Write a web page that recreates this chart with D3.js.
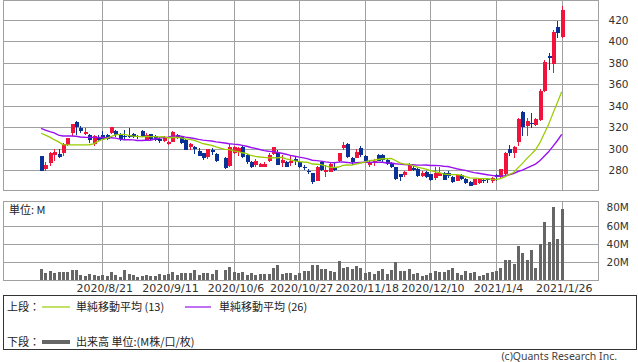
<!DOCTYPE html>
<html><head><meta charset="utf-8">
<script src="https://cdn.jsdelivr.net/npm/d3@7"></script>
<style>body{margin:0;background:#fff} svg{display:block}</style>
</head><body><svg id="c" width="638" height="362"></svg>
<script>
// ---- data ----
const dates = ("2020/7/31 2020/8/3 2020/8/4 2020/8/5 2020/8/6 2020/8/7 2020/8/11 2020/8/12 2020/8/13 2020/8/14 " +
"2020/8/17 2020/8/18 2020/8/19 2020/8/20 2020/8/21 2020/8/24 2020/8/25 2020/8/26 2020/8/27 2020/8/28 " +
"2020/8/31 2020/9/1 2020/9/2 2020/9/3 2020/9/4 2020/9/7 2020/9/8 2020/9/9 2020/9/10 2020/9/11 " +
"2020/9/14 2020/9/15 2020/9/16 2020/9/17 2020/9/18 2020/9/23 2020/9/24 2020/9/25 2020/9/28 2020/9/29 " +
"2020/9/30 2020/10/1 2020/10/2 2020/10/5 2020/10/6 2020/10/7 2020/10/8 2020/10/9 2020/10/12 2020/10/13 " +
"2020/10/14 2020/10/15 2020/10/16 2020/10/19 2020/10/20 2020/10/21 2020/10/22 2020/10/23 2020/10/26 2020/10/27 " +
"2020/10/28 2020/10/29 2020/10/30 2020/11/2 2020/11/4 2020/11/5 2020/11/6 2020/11/9 2020/11/10 2020/11/11 " +
"2020/11/12 2020/11/13 2020/11/16 2020/11/17 2020/11/18 2020/11/19 2020/11/20 2020/11/24 2020/11/25 2020/11/26 " +
"2020/11/27 2020/11/30 2020/12/1 2020/12/2 2020/12/3 2020/12/4 2020/12/7 2020/12/8 2020/12/9 2020/12/10 " +
"2020/12/11 2020/12/14 2020/12/15 2020/12/16 2020/12/17 2020/12/18 2020/12/21 2020/12/22 2020/12/23 2020/12/24 " +
"2020/12/25 2020/12/28 2020/12/29 2020/12/30 2021/1/4 2021/1/5 2021/1/6 2021/1/7 2021/1/8 2021/1/12 " +
"2021/1/13 2021/1/14 2021/1/15 2021/1/18 2021/1/19 2021/1/20 2021/1/21 2021/1/22 2021/1/25 2021/1/26").split(" ");

const open = [293,281.5,287,294.5,295.5,296.4,303.5,315,325,319,
313.5,313.2,304.5,311.3,313,312.5,315,316.6,313.8,311.9,
312.9,313.8,312,316.9,308.2,313.5,311.6,309.2,307.3,304.5,
306.7,313,310.7,308.2,302,302,298,295.8,292.1,299.2,
295.5,null,291.8,284,296,297.5,302,294.3,288,285,
283.4,283.5,289,295,297.3,287.1,288,286.5,290.2,288,
283.4,279.6,277.2,270.3,288,278.1,278.7,283.4,288.7,301.1,
304.2,291.2,291.8,300.5,293.3,285,286.5,294.3,294.3,289.6,
286.5,282.8,276.3,275.6,279.6,282.4,281,275,278.1,276.5,
272.5,275,277.8,277.2,274,270.3,275.6,271.6,269.4,266.3,
267.9,271,271.5,270.3,275.6,273.5,276.5,299.8,296.4,306.7,
334.6,321.3,324.4,322.2,326.8,354.1,386.4,379,413.9,403.9];

const high = [293.5,288,297,299.8,299.8,305,310.5,323.5,326.2,321,
319.7,314,313.2,313,316.6,313.5,320.5,317.5,315,317.5,
319.7,314.5,313,317.8,314.7,314,312.5,311,312,307.4,
316.5,314,312.2,309,305.5,302.5,300.5,296.5,300.3,300.5,
296.5,null,292.5,304.2,303,302,303,295.5,289,290.2,
287,288,296,302,298.5,294.3,288.5,293,292,288.7,
285,281,277.5,284,289,284.5,287,288,296.3,306.1,
305,292.5,299.6,302.6,294,290,290.5,295,295.5,291,
288,283.5,277,279.5,286.5,284,282,279,279.5,277,
283,283,278.5,279,275,276,277,272.5,270,272,
273,273,273,274,277,281.5,297.3,303.4,302.5,328.5,
335,328.4,333.5,328.5,355.5,382.8,389.5,410.7,419.5,433.3];

const low = [279,279.6,284.3,288.7,291.5,293.6,303,312,313,315,
313,305.7,303,307,308,308,313.5,311,307.6,309.2,
310.4,310.5,309.5,311,307.8,308,307.5,305,306.7,303.5,
306,309.3,304.5,299,299,295.5,293,289.6,290.2,294.5,
288,null,281,283.5,295,293.5,291,286,282,283.5,
283,283,288,294.5,284.5,283.4,283,284,285,281.9,
280.5,276.5,267.2,270,279.5,273.5,278,279.5,288,299,
291,285,291,292,288.5,283,284,288.5,288,285,
282,271,270,274,279,279,274,273.5,273,270,
271,274.5,270.5,273,268.5,270,270.5,267.5,265,266,
267.5,268,268.5,268,270,273,276,293,291.8,302.6,
312,312.2,319.8,321,326,353,373.4,371,403,403];

const close = [279.6,285.2,296,296.7,292.4,304.2,310,323,320.6,316.7,
316,308.5,312.3,307.9,308.7,309,320,312.6,309.2,311,
311.3,311.3,311.8,311.9,313,309.2,308.2,307.3,310.4,306.7,
316,310.4,305.1,299.2,304.8,299.6,293.6,291.2,299.8,297.5,
288.7,null,282,302,301.5,300.5,292,288,283,288.7,
286,285.8,294.3,301.4,285,289.6,283.4,289,288.7,283.4,
282,278.7,268.8,283.4,280.3,280.3,285.9,280.3,295.8,303.6,
292.7,287.5,296.7,294.3,289,286.5,289,289,289.5,285.9,
283.4,271.6,274,278.7,285.9,280.3,274.8,277.2,274,271,
277.8,277.8,271,274.8,269.4,275.6,271.6,268.5,265.7,271.6,
272.5,270.5,271,272.5,274,281,295.8,296.4,302,327.8,
320,326.2,323,327.8,354.1,381.2,384.9,409.1,408.3,429.3];

// volume in millions
const volume = [12.2,8.1,10,7.7,8.5,9.2,8.8,11.4,11.4,5.5,
4,6.3,5.5,4,5.5,4.4,8.5,5.5,3.7,10.7,
6.6,5.2,3.7,4,5.2,4.4,4,6.3,5.9,7,
8.8,5.2,7.7,7.7,8.1,10.7,5.5,7.4,7.4,6.6,
10.7,null,10.7,14,8.8,8.1,8.5,5.9,7.4,5.2,
6.3,7,7,13.3,16.2,7,7.7,7.7,5.9,7.4,
9.6,10.3,16.6,16.6,12.2,12.2,10,8.8,21,13.3,
14.4,12.2,15.5,13.3,8.1,8.8,6.6,10,12.2,6.6,
10.7,19.5,10,10,12.2,6.6,7.7,4.8,5.9,7.7,
10,8.8,8.8,11,13.3,7.7,5.5,10,8.1,8.8,
4.8,5.9,7.7,8.8,10,13.3,22.1,22.1,17.7,37.6,
29.8,22.1,33.1,13.3,40.1,64.1,42,80.7,45.3,78.5];

// moving-average values before enough closes are shown
const ma13Head = [314.5,312.8,310.9,308.5,306.5,304,303.6,303.6,303.6,303.6,303.6,303.8];
const ma26Head = [319.1,317.5,316,314.8,312.8,312,311.9,311.9,311.7,311,310.8,310.7,310.7,
310.6,310.5,310.4,310.3,310,309,308.5,308.5,308.3,307.8,307.8,308];

const tickDates = ["2020/8/21","2020/9/11","2020/10/6","2020/10/27","2020/11/18","2020/12/10","2021/1/4","2021/1/26"];
const priceTicks = [280,300,320,340,360,380,400,420];
const volGrid = [20,40,60];
const volTicks = [20,40,60,80];

// ---- layout ----
const svg = d3.select("#c");
svg.append("rect").attr("width",638).attr("height",362).attr("fill","#fff");
const L=3.5, R=598.5, T=0.5, B=190.5, VT=201.5, VB=280.5;
const GRID="#a0a0a0";
const UP="#f0143c", DOWN="#0a3296";

const x = d3.scalePoint().domain(dates).range([41.05, 561.675]);
const y = d3.scaleLinear().domain([280,420]).range([170.3,20]);
const yv = d3.scaleLinear().domain([0,80]).range([280,207.6]);

const defs = svg.append("defs");
defs.append("clipPath").attr("id","cp1").append("rect").attr("x",L).attr("y",T).attr("width",R-L).attr("height",B-T);
defs.append("clipPath").attr("id","cp2").append("rect").attr("x",L).attr("y",VT).attr("width",R-L).attr("height",VB-VT);

const font = "DejaVu Sans, sans-serif";
const cjk = "'Noto Sans CJK JP', sans-serif";

// grids
const g1 = svg.append("g").attr("shape-rendering","crispEdges");
g1.selectAll(".hg").data(priceTicks).join("line")
  .attr("x1",L).attr("x2",R).attr("y1",d=>Math.round(y(d))+0.5).attr("y2",d=>Math.round(y(d))+0.5)
  .attr("stroke",GRID);
g1.selectAll(".vg").data(volGrid).join("line")
  .attr("x1",L).attr("x2",R).attr("y1",d=>Math.round(yv(d))+0.5).attr("y2",d=>Math.round(yv(d))+0.5)
  .attr("stroke",GRID);
tickDates.forEach(d=>{
  const xx = Math.round(x(d))+0.5;
  g1.append("line").attr("x1",xx).attr("x2",xx).attr("y1",T).attr("y2",B).attr("stroke",GRID);
  g1.append("line").attr("x1",xx).attr("x2",xx).attr("y1",VT).attr("y2",VB).attr("stroke",GRID);
});

// candles
const rows = dates.map((d,i)=>({d, o:open[i], h:high[i], l:low[i], c:close[i], v:volume[i]}));
const valid = rows.filter(r=>r.c!=null);
const cg = svg.append("g").attr("clip-path","url(#cp1)").attr("shape-rendering","crispEdges");
cg.selectAll(".wick").data(valid).join("line")
  .attr("x1",r=>Math.round(x(r.d))+0.5).attr("x2",r=>Math.round(x(r.d))+0.5)
  .attr("y1",r=>y(r.h)).attr("y2",r=>y(r.l))
  .attr("stroke",r=>r.c>=r.o?UP:DOWN).attr("stroke-width",1);
cg.selectAll(".body").data(valid).join("rect")
  .attr("x",r=>Math.round(x(r.d))-1).attr("width",4)
  .attr("y",r=>y(Math.max(r.o,r.c)))
  .attr("height",r=>Math.max(1, Math.abs(y(r.o)-y(r.c))))
  .attr("fill",r=>r.c>=r.o?UP:DOWN);

// moving averages
function sma(n, head){
  const out=[], vals=[];
  rows.forEach((r,i)=>{
    if(r.c==null) return;
    vals.push(r.c);
    const v = i<head.length ? head[i] : d3.mean(vals.slice(-n));
    out.push({d:r.d, v});
  });
  return out;
}
const ma13 = sma(13, ma13Head), ma26 = sma(26, ma26Head);
const line = d3.line().x(p=>x(p.d)).y(p=>y(p.v));
const lg = svg.append("g").attr("clip-path","url(#cp1)");
lg.append("path").attr("d",line(ma26)).attr("fill","none").attr("stroke","#9a10f0").attr("stroke-width",1.4);
lg.append("path").attr("d",line(ma13)).attr("fill","none").attr("stroke","#9acd00").attr("stroke-width",1.3);

// volume bars
const vg = svg.append("g").attr("clip-path","url(#cp2)").attr("shape-rendering","crispEdges");
vg.selectAll("rect").data(rows.filter(r=>r.v!=null)).join("rect")
  .attr("x",r=>Math.round(x(r.d))-1).attr("width",3)
  .attr("y",r=>yv(r.v)).attr("height",r=>280-yv(r.v))
  .attr("fill","#666");

// frames
const fr = svg.append("g").attr("shape-rendering","crispEdges").attr("fill","none").attr("stroke",GRID);
fr.append("rect").attr("x",L).attr("y",T).attr("width",R-L).attr("height",B-T);
fr.append("rect").attr("x",L).attr("y",VT).attr("width",R-L).attr("height",VB-VT);

// axes
const ay = svg.append("g").attr("transform",`translate(${R},0)`)
  .call(d3.axisRight(y).tickValues(priceTicks).tickSize(0).tickPadding(10));
ay.select(".domain").remove();
ay.selectAll("text").attr("font-family",font).attr("font-size",10.5).attr("fill","#333");

const av = svg.append("g").attr("transform",`translate(${R},0)`)
  .call(d3.axisRight(yv).tickValues(volTicks).tickSize(0).tickPadding(8).tickFormat(d=>d+"M"));
av.select(".domain").remove();
av.selectAll("text").attr("font-family",font).attr("font-size",10.5).attr("fill","#333");

const ax = svg.append("g").attr("transform",`translate(2,${VB})`)
  .call(d3.axisBottom(x).tickValues(tickDates).tickSize(0).tickPadding(3.5));
ax.select(".domain").remove();
ax.selectAll("text").attr("font-family",font).attr("font-size",11).attr("fill","#333");

svg.append("text").attr("x",9).attr("y",214).attr("font-family",cjk).attr("font-size",11).attr("fill","#222").text("単位: M");

// legend
svg.append("rect").attr("x",3.5).attr("y",295.5).attr("width",633).attr("height",54)
  .attr("fill","none").attr("stroke","#333").attr("shape-rendering","crispEdges");
const lt = (xx,yy,t)=>svg.append("text").attr("x",xx).attr("y",yy).attr("font-family",cjk).attr("font-size",11).attr("fill","#222").text(t);
lt(7,311,"上段：");
svg.append("line").attr("x1",42).attr("x2",70).attr("y1",307).attr("y2",307).attr("stroke","#9acd00").attr("stroke-width",1.2);
lt(76,311,"単純移動平均 (13)");
svg.append("line").attr("x1",185).attr("x2",211).attr("y1",307).attr("y2",307).attr("stroke","#9a10f0").attr("stroke-width",1.2);
lt(219,311,"単純移動平均 (26)");
lt(7,346,"下段：");
svg.append("line").attr("x1",42).attr("x2",70).attr("y1",342).attr("y2",342).attr("stroke","#666").attr("stroke-width",4);
lt(76,346,"出来高 単位:(M株/口/枚)");

svg.append("text").attr("x",617).attr("y",360).attr("text-anchor","end")
  .attr("font-family","'Noto Sans', sans-serif").attr("font-size",10.5).attr("fill","#444")
  .text("(c)Quants Research Inc.");
</script></body></html>
